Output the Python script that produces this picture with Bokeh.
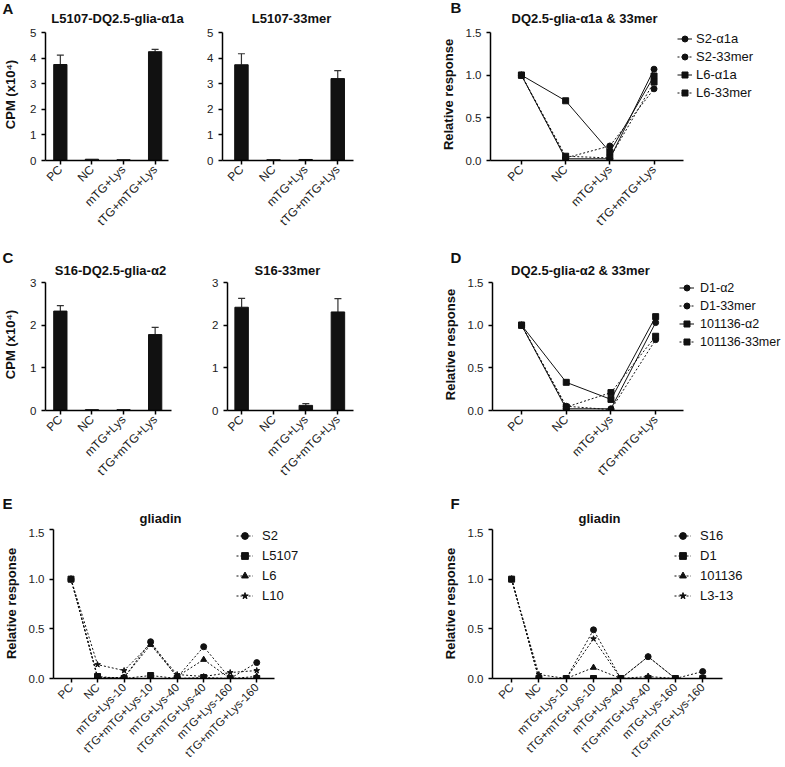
import math
from bokeh.plotting import figure
from bokeh.models import (Range1d, FixedTicker, Whisker, TeeHead, ColumnDataSource,
                          Legend, LegendItem, Label, NumeralTickFormatter)
from bokeh.layouts import row, column
from bokeh.embed import file_html
from bokeh.resources import INLINE

FONT = "Liberation Sans"

# ---------------- data ----------------
bar_cats = ["PC", "NC", "mTG+Lys", "tTG+mTG+Lys"]

a1_mean = [3.75, 0.05, 0.03, 4.25]
a1_err = [0.37, 0.0, 0.0, 0.09]
a2_mean = [3.74, 0.03, 0.04, 3.20]
a2_err = [0.43, 0.0, 0.0, 0.31]
c1_mean = [2.33, 0.02, 0.02, 1.78]
c1_err = [0.13, 0.0, 0.0, 0.17]
c2_mean = [2.42, 0.0, 0.12, 2.31]
c2_err = [0.21, 0.0, 0.04, 0.31]

b_names = ["S2-α1a", "S2-33mer", "L6-α1a", "L6-33mer"]
b_s2_a1a = [1.0, 0.02, 0.02, 1.07]
b_s2_33mer = [1.0, 0.03, 0.17, 0.84]
b_l6_a1a = [1.0, 0.70, 0.10, 0.99]
b_l6_33mer = [1.0, 0.05, 0.03, 0.92]

d_names = ["D1-α2", "D1-33mer", "101136-α2", "101136-33mer"]
d_d1_a2 = [1.0, 0.02, 0.02, 1.03]
d_d1_33mer = [1.0, 0.05, 0.01, 0.83]
d_101136_a2 = [1.0, 0.33, 0.13, 1.10]
d_101136_33mer = [1.0, 0.04, 0.21, 0.87]

time_cats = ["PC", "NC", "mTG+Lys-10", "tTG+mTG+Lys-10", "mTG+Lys-40",
             "tTG+mTG+Lys-40", "mTG+Lys-160", "tTG+mTG+Lys-160"]

e_names = ["S2", "L5107", "L6", "L10"]
e_s2 = [1.0, 0.01, 0.01, 0.37, 0.01, 0.32, 0.0, 0.16]
e_l5107 = [1.0, 0.02, 0.0, 0.03, 0.0, 0.01, 0.0, 0.0]
e_l6 = [1.0, 0.01, 0.01, 0.34, 0.02, 0.19, 0.0, 0.02]
e_l10 = [1.0, 0.14, 0.08, 0.35, 0.04, 0.02, 0.06, 0.08]

f_names = ["S16", "D1", "101136", "L3-13"]
f_s16 = [1.0, 0.0, 0.0, 0.49, 0.0, 0.22, 0.0, 0.07]
f_d1 = [1.0, 0.0, 0.0, 0.0, 0.0, 0.0, 0.0, 0.0]
f_101136 = [1.0, 0.0, 0.0, 0.11, 0.0, 0.02, 0.0, 0.0]
f_l3_13 = [1.0, 0.04, 0.0, 0.40, 0.0, 0.22, 0.0, 0.0]

PAGE_W = 785


# ---------------- helpers ----------------
def strip(y0, h, texts):
    """Text strip (panel letters and titles); coordinates in page pixels."""
    p = figure(width=PAGE_W, height=h, x_range=Range1d(0, PAGE_W),
               y_range=Range1d(y0 + h, y0), x_axis_type=None, y_axis_type=None,
               output_backend="svg", toolbar_location=None, tools="",
               min_border=0, min_border_left=0, min_border_right=0,
               min_border_top=0, min_border_bottom=0)
    p.outline_line_color = None
    p.xgrid.visible = False
    p.ygrid.visible = False
    for X, Y, t, size, align in texts:
        p.add_layout(Label(x=X, y=Y, text=t, text_font=FONT, text_font_size=size,
                           text_font_style="bold", text_align=align,
                           text_baseline="middle", text_color="#111111"))
    return p


def make_fig(x0, y0, w, h, L, R, B, x_lo, unit, axis_end, ymax, y_axis_top,
             xfont="12px"):
    """Frame spans L..R horizontally and y0..B vertically (page pixels);
    the axes are bounded to the GraphPad-style extents."""
    x_start = x_lo
    x_end = x_lo + (R - L) / unit
    y_end = ymax * (B - y0) / (B - y_axis_top)
    p = figure(width=w, height=h, x_range=Range1d(x_start, x_end),
               y_range=Range1d(0, y_end),
               output_backend="svg", toolbar_location=None, tools="",
               min_border=0, min_border_left=L - x0, min_border_right=x0 + w - R,
               min_border_top=0, min_border_bottom=y0 + h - B)
    p.title.visible = False
    p.xgrid.visible = False
    p.ygrid.visible = False
    p.outline_line_color = None
    for ax in (p.xaxis[0], p.yaxis[0]):
        ax.axis_line_width = 1.5
        ax.axis_line_color = "black"
        ax.major_tick_in = 0
        ax.major_tick_out = 4
        ax.major_tick_line_width = 1.5
        ax.major_tick_line_color = "black"
        ax.minor_tick_in = 0
        ax.minor_tick_out = 0
        ax.major_label_text_font = FONT
        ax.major_label_text_font_size = "11.5px"
        ax.major_label_text_color = "#222222"
        ax.axis_label_text_font = FONT
        ax.axis_label_text_font_style = "bold"
        ax.axis_label_text_font_size = "13px"
        ax.axis_label_text_color = "#111111"
    p.xaxis[0].major_label_text_font_size = xfont
    p.xaxis[0].bounds = (x_start, x_lo + (axis_end - L) / unit)
    p.yaxis[0].bounds = (0, ymax)
    return p


def set_xcats(p, cats):
    ax = p.xaxis[0]
    ax.ticker = FixedTicker(ticks=list(range(len(cats))))
    ax.major_label_overrides = {i: c for i, c in enumerate(cats)}
    ax.major_label_orientation = math.pi / 4
    ax.major_label_standoff = 3


def bar_panel(p, cats, mean, err, ymax, ylabel=None):
    set_xcats(p, cats)
    xs = list(range(len(cats)))
    src = ColumnDataSource(dict(x=xs, top=mean))
    p.vbar(x="x", top="top", width=0.42, source=src, fill_color="#111111",
           line_color="#111111")
    wx = [x for x, e in zip(xs, err) if e > 0]
    wlo = [m for m, e in zip(mean, err) if e > 0]
    whi = [m + e for m, e in zip(mean, err) if e > 0]
    wsrc = ColumnDataSource(dict(x=wx, lower=wlo, upper=whi))
    p.add_layout(Whisker(source=wsrc, base="x", lower="lower", upper="upper",
                         line_color="#333333", line_width=1.2, lower_head=None,
                         upper_head=TeeHead(size=7, line_color="#333333",
                                            line_width=1.2)))
    p.yaxis[0].ticker = FixedTicker(ticks=list(range(int(ymax) + 1)))
    if ylabel:
        p.yaxis[0].axis_label = ylabel
        p.yaxis[0].axis_label_standoff = 9


def line_panel(p, cats, series, names, dashes, markers, leg_xy, glyph_w,
               standoff, row_h, spacing, leg_font="13px"):
    set_xcats(p, cats)
    xs = list(range(len(cats)))
    items = []
    for ys, name, dash, mk in zip(series, names, dashes, markers):
        src = ColumnDataSource(dict(x=xs, y=ys))
        r1 = p.line("x", "y", source=src, line_color="#111111", line_width=1,
                    line_dash=dash)
        r2 = p.scatter("x", "y", source=src, marker=mk, size=6,
                       fill_color="#111111", line_color="#111111")
        items.append(LegendItem(label=name, renderers=[r1, r2]))
    leg = Legend(items=items, location=leg_xy, orientation="vertical",
                 padding=0, margin=0, border_line_color=None,
                 background_fill_alpha=0, glyph_width=glyph_w,
                 glyph_height=row_h, label_height=row_h, spacing=spacing,
                 label_standoff=standoff, label_text_font=FONT,
                 label_text_font_size=leg_font, label_text_color="#111111")
    p.add_layout(leg)
    p.yaxis[0].ticker = FixedTicker(ticks=[0, 0.5, 1.0, 1.5])
    p.yaxis[0].formatter = NumeralTickFormatter(format="0.0")
    p.yaxis[0].axis_label = "Relative response"
    p.yaxis[0].axis_label_standoff = 7


# ---------------- row 1 ----------------
s1 = strip(0, 28, [(2, 8, "A", "15px", "left"), (450, 7, "B", "15px", "left"),
                   (117, 18, "L5107-DQ2.5-glia-α1a", "13px", "center"),
                   (291, 18, "L5107-33mer", "13px", "center"),
                   (584, 18, "DQ2.5-glia-α1a & 33mer", "13px", "center")])

pA1 = make_fig(0, 28, 180, 222, 43, 168, 160, -0.47, 32.1, 168, 5, 32)
bar_panel(pA1, bar_cats, a1_mean, a1_err, 5, "CPM (x10⁴)")

pA2 = make_fig(180, 28, 220, 222, 222, 353, 160, -0.59, 32.1, 353, 5, 32)
bar_panel(pA2, bar_cats, a2_mean, a2_err, 5)

pB = make_fig(400, 28, PAGE_W - 400, 222, 490, PAGE_W, 160, -0.70, 44.2, 683, 1.5, 32)
line_panel(pB, bar_cats, [b_s2_a1a, b_s2_33mer, b_l6_a1a, b_l6_33mer], b_names,
           ["solid", "2 2", "solid", "2 2"],
           ["circle", "circle", "square", "square"],
           (187, 60), 15, 4, 15, 3)

# ---------------- row 2 ----------------
s2 = strip(250, 28, [(2, 257, "C", "15px", "left"), (450, 257, "D", "15px", "left"),
                     (110, 270, "S16-DQ2.5-glia-α2", "13px", "center"),
                     (287, 270, "S16-33mer", "13px", "center"),
                     (580, 270, "DQ2.5-glia-α2 & 33mer", "13px", "center")])

pC1 = make_fig(0, 278, 180, 216, 43, 171, 410, -0.47, 32.1, 171, 3, 282)
bar_panel(pC1, bar_cats, c1_mean, c1_err, 3, "CPM (x10⁴)")

pC2 = make_fig(180, 278, 220, 216, 227, 353, 410, -0.44, 32.1, 353, 3, 282)
bar_panel(pC2, bar_cats, c2_mean, c2_err, 3)

pD = make_fig(400, 278, PAGE_W - 400, 216, 492, PAGE_W, 410, -0.65, 44.7, 683, 1.5, 282)
line_panel(pD, bar_cats, [d_d1_a2, d_d1_33mer, d_101136_a2, d_101136_33mer], d_names,
           ["solid", "2 2", "solid", "2 2"],
           ["circle", "circle", "square", "square"],
           (187, 61), 15, 6, 15, 3, leg_font="12.5px")

# ---------------- row 3 ----------------
s3 = strip(494, 34, [(2, 503, "E", "15px", "left"), (450, 503, "F", "15px", "left"),
                     (160, 518, "gliadin", "13px", "center"),
                     (599, 518, "gliadin", "13px", "center")])

pE = make_fig(0, 528, 390, 238, 42, 390, 681, -0.66, 27.4, 270, 1.5, 529, xfont="11.5px")
line_panel(pE, time_cats, [e_s2, e_l5107, e_l6, e_l10], e_names,
           ["2 2"] * 4, ["circle", "square", "triangle", "star"],
           (183, 74), 17, 9, 17, 3)

pF = make_fig(390, 528, PAGE_W - 390, 238, 492, PAGE_W, 681, -0.70, 27.3, 722, 1.5, 529,
              xfont="11.5px")
line_panel(pF, time_cats, [f_s16, f_d1, f_101136, f_l3_13], f_names,
           ["2 2"] * 4, ["circle", "square", "triangle", "star"],
           (182, 74), 17, 9, 17, 3)

layout = column(s1, row(pA1, pA2, pB), s2, row(pC1, pC2, pD), s3, row(pE, pF))

open("out.html", "w").write(file_html(layout, INLINE))
